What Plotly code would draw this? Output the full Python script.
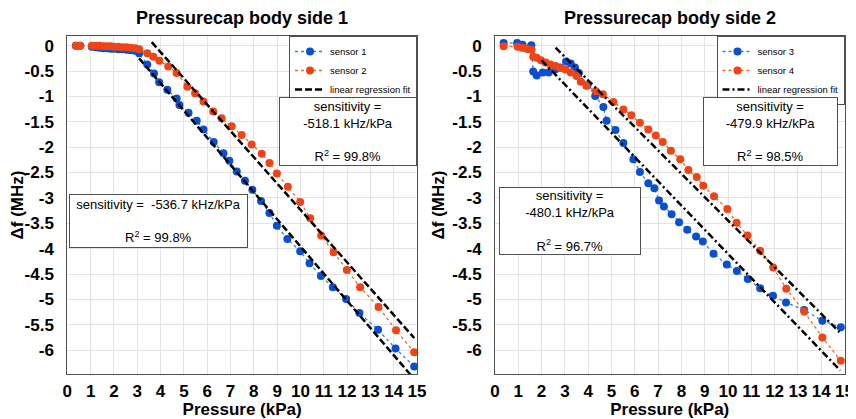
import plotly.graph_objects as go

# ---------------- data ----------------
pressure_s1 = [0.37, 0.55, 1.05, 1.22, 1.37, 1.55, 1.69, 1.86, 2.0, 2.19, 2.38, 2.55, 2.72, 2.91, 3.08,
               3.43, 3.72, 3.94, 4.29, 4.69, 4.81, 5.2, 5.55, 5.84, 6.28, 6.7, 6.95, 7.27, 7.62, 7.94,
               8.31, 8.67, 8.99, 9.44, 9.99, 10.39, 10.88, 11.39, 11.96, 12.53, 13.33, 14.08, 14.88]
df_s1 = [0, 0, -0.02, -0.03, -0.04, -0.05, -0.05, -0.06, -0.06, -0.07, -0.07, -0.08, -0.09, -0.10, -0.15,
         -0.37, -0.55, -0.72, -0.87, -1.04, -1.17, -1.32, -1.48, -1.65, -1.90, -2.12, -2.27, -2.48, -2.66, -2.84,
         -3.06, -3.30, -3.55, -3.81, -4.05, -4.29, -4.54, -4.76, -4.99, -5.27, -5.60, -5.97, -6.32]

pressure_s2 = [0.37, 0.55, 1.05, 1.22, 1.37, 1.55, 1.69, 1.86, 2.0, 2.19, 2.38, 2.55, 2.72, 2.91, 3.08,
               3.43, 3.69, 3.95, 4.33, 4.69, 5.15, 5.48, 5.84, 6.26, 6.62, 7.05, 7.48, 7.91, 8.34, 8.67,
               8.99, 9.46, 9.99, 10.42, 10.89, 11.42, 11.99, 12.56, 13.35, 14.1, 14.88]
df_s2 = [0, 0, 0, 0, 0, -0.01, -0.01, -0.01, -0.02, -0.02, -0.03, -0.03, -0.04, -0.05, -0.07,
         -0.15, -0.22, -0.30, -0.41, -0.54, -0.81, -0.94, -1.10, -1.30, -1.43, -1.59, -1.76, -1.95, -2.13, -2.31,
         -2.52, -2.78, -3.08, -3.40, -3.74, -4.07, -4.42, -4.76, -5.15, -5.61, -6.04]

pressure_s3 = [0.37, 0.95, 1.18, 1.56, 1.64, 1.79, 2.05, 2.3, 2.58, 2.79, 3.05, 3.25, 3.43, 3.6, 3.97, 4.3,
               4.65, 4.79, 5.17, 5.51, 5.94, 6.22, 6.58, 6.84, 7.04, 7.25, 7.58, 7.9, 8.25, 8.63, 8.92,
               9.38, 9.95, 10.38, 10.85, 11.38, 11.93, 12.49, 13.27, 14.05, 14.84]
df_s3 = [0.05, 0.05, 0.02, 0.01, -0.51, -0.59, -0.53, -0.53, -0.47, -0.43, -0.31, -0.35, -0.43, -0.54, -0.78, -0.99,
         -1.21, -1.48, -1.66, -1.92, -2.24, -2.49, -2.71, -2.81, -3.05, -3.17, -3.32, -3.48, -3.63, -3.76, -3.86,
         -4.10, -4.31, -4.44, -4.60, -4.78, -4.93, -5.06, -5.21, -5.42, -5.55]

pressure_s4 = [0.37, 0.97, 1.15, 1.3, 1.42, 1.57, 1.64, 1.79, 1.97, 2.17, 2.38, 2.6, 2.8, 3.03, 3.25, 3.5,
               3.68, 3.92, 4.33, 4.63, 5.08, 5.51, 5.85, 6.22, 6.58, 6.9, 7.2, 7.55, 7.95, 8.3, 8.66,
               8.94, 9.4, 9.97, 10.37, 10.84, 11.38, 11.94, 12.5, 13.27, 14.05, 14.84]
df_s4 = [-0.01, -0.02, -0.04, -0.05, -0.07, -0.08, -0.22, -0.24, -0.29, -0.33, -0.37, -0.40, -0.44, -0.47, -0.53, -0.60,
         -0.71, -0.79, -0.90, -0.96, -1.11, -1.26, -1.37, -1.52, -1.65, -1.77, -1.90, -2.07, -2.24, -2.45, -2.59,
         -2.76, -2.97, -3.22, -3.49, -3.74, -4.04, -4.37, -4.79, -5.24, -5.75, -6.21]

# linear regression fit lines: end points (pressure, df)
fit1_x = [3.08, 14.9]
fit1_y = [-0.25, -6.58]
fit2_x = [3.62, 14.88]
fit2_y = [0.07, -5.76]
fit3_x = [2.0, 14.82]
fit3_y = [-0.29, -6.40]
fit4_x = [2.6, 14.86]
fit4_y = [-0.04, -5.68]

x_ticks = list(range(0, 16))
y_tickvals = [0, -0.5, -1, -1.5, -2, -2.5, -3, -3.5, -4, -4.5, -5, -5.5, -6]
y_ticktext = ["0", "-0.5", "-1", "-1.5", "-2", "-2.5", "-3", "-3.5", "-4", "-4.5", "-5", "-5.5", "-6"]

titles = ["Pressurecap body side 1", "Pressurecap body side 2"]
names_left = ["sensor 1", "sensor 2", "linear regression fit"]
names_right = ["sensor 3", "sensor 4", "linear regression fit"]
box_texts = [
    "sensitivity =<br>-518.1 kHz/kPa<br><br>R<sup>2</sup> = 99.8%",
    "sensitivity =  -536.7 kHz/kPa<br><br>R<sup>2</sup> = 99.8%",
    "sensitivity =<br>-479.9 kHz/kPa<br><br>R<sup>2</sup> = 98.5%",
    "sensitivity =<br>-480.1 kHz/kPa<br><br>R<sup>2</sup> = 96.7%",
]

# ---------------- styling ----------------
BLUE_M = "#0a4fd0"
BLUE_L = "#2b86e0"
RED_M = "#ee4416"
RED_L = "#f26a22"
FONT = "Liberation Sans, Arial, sans-serif"

# the html page body has an 8 px margin, so the figure is 8 px smaller than the window
W, H = 848, 411
fig = go.Figure()

def sensor(x, y, name, cm, cl, xa, ya, legend):
    return go.Scatter(x=x, y=y, name=name, mode="lines+markers", xaxis=xa, yaxis=ya,
                      legend=legend, cliponaxis=False,
                      line=dict(color=cl, width=1.3, dash="dot"),
                      marker=dict(color=cm, size=8, line=dict(width=0)))

def fit(x, y, name, dash, xa, ya, legend, show):
    return go.Scatter(x=x, y=y, name=name, mode="lines", xaxis=xa, yaxis=ya,
                      legend=legend, showlegend=show,
                      line=dict(color="black", width=2.5, dash=dash))

DASH = "7px,3px"
DASHDOT = "7px,3px,2px,3px"

fig.add_trace(sensor(pressure_s1, df_s1, names_left[0], BLUE_M, BLUE_L, "x", "y", "legend"))
fig.add_trace(sensor(pressure_s2, df_s2, names_left[1], RED_M, RED_L, "x", "y", "legend"))
fig.add_trace(fit(fit1_x, fit1_y, names_left[2], DASH, "x", "y", "legend", True))
fig.add_trace(fit(fit2_x, fit2_y, names_left[2], DASH, "x", "y", "legend", False))

fig.add_trace(sensor(pressure_s3, df_s3, names_right[0], BLUE_M, BLUE_L, "x2", "y2", "legend2"))
fig.add_trace(sensor(pressure_s4, df_s4, names_right[1], RED_M, RED_L, "x2", "y2", "legend2"))
fig.add_trace(fit(fit3_x, fit3_y, names_right[2], DASHDOT, "x2", "y2", "legend2", True))
fig.add_trace(fit(fit4_x, fit4_y, names_right[2], DASHDOT, "x2", "y2", "legend2", False))

xdom1 = [59.3 / W, 409 / W]
xdom2 = [487 / W, 836.5 / W]

tickfont = dict(family=FONT, size=17, color="black", weight="bold")
titlefont = dict(family=FONT, size=17, color="black", weight="bold")

axis_common = dict(showgrid=True, gridcolor="#e4e4e4", gridwidth=1, zeroline=False,
                   showline=True, linecolor="#505050", linewidth=1, mirror=True,
                   ticks="", ticklen=0, automargin=False)
xcommon = dict(axis_common, range=[0, 15], tickvals=x_ticks, tickangle=0, tickfont=tickfont,
               title=dict(text="Pressure (kPa)", font=titlefont, standoff=3),
               ticklabelstandoff=2)
ycommon = dict(axis_common, range=[-6.47, 0.19], tickvals=y_tickvals, ticktext=y_ticktext,
               tickfont=tickfont,
               title=dict(text="Δf (MHz)", font=titlefont, standoff=3),
               ticklabelstandoff=9)

legend_common = dict(y=1, yanchor="top", xanchor="right", bgcolor="white",
                     bordercolor="#505050", borderwidth=1,
                     font=dict(family=FONT, size=9.5, color="black"),
                     itemwidth=30, tracegroupgap=0)

fig.update_layout(
    width=W, height=H,
    margin=dict(l=0, r=0, t=28, b=44.7, autoexpand=False),
    paper_bgcolor="white", plot_bgcolor="white",
    xaxis=dict(xcommon, domain=xdom1, anchor="y"),
    yaxis=dict(ycommon, domain=[0, 1], anchor="x"),
    xaxis2=dict(xcommon, domain=xdom2, anchor="y2"),
    yaxis2=dict(ycommon, domain=[0, 1], anchor="x2"),
    legend=dict(legend_common, x=xdom1[1]),
    legend2=dict(legend_common, x=xdom2[1]),
    showlegend=True,
)

# titles
for i, t in enumerate(titles):
    dom = xdom1 if i == 0 else xdom2
    fig.add_annotation(text=t, xref="paper", yref="paper",
                       x=(dom[0] + dom[1]) / 2, xanchor="center", y=1, yshift=6, yanchor="bottom",
                       showarrow=False, font=dict(family=FONT, size=18, color="black", weight="bold"))

# sensitivity boxes (centre in data coords, size in px)
boxes = [
    dict(x=12.04, y=-1.70, w=136, h=67, xr="x", yr="y", t=box_texts[0]),
    dict(x=3.93, y=-3.45, w=177, h=52, xr="x", yr="y", t=box_texts[1]),
    dict(x=11.81, y=-1.70, w=133, h=67, xr="x2", yr="y2", t=box_texts[2]),
    dict(x=3.24, y=-3.45, w=140, h=66, xr="x2", yr="y2", t=box_texts[3]),
]
for b in boxes:
    fig.add_annotation(text=b["t"], x=b["x"], y=b["y"], xref=b["xr"], yref=b["yr"],
                       xanchor="center", yanchor="middle",
                       width=b["w"], height=b["h"], showarrow=False, align="center", valign="middle",
                       bgcolor="white", bordercolor="#505050", borderwidth=1, borderpad=0,
                       font=dict(family=FONT, size=13, color="black"))

fig.write_html("out.html")
